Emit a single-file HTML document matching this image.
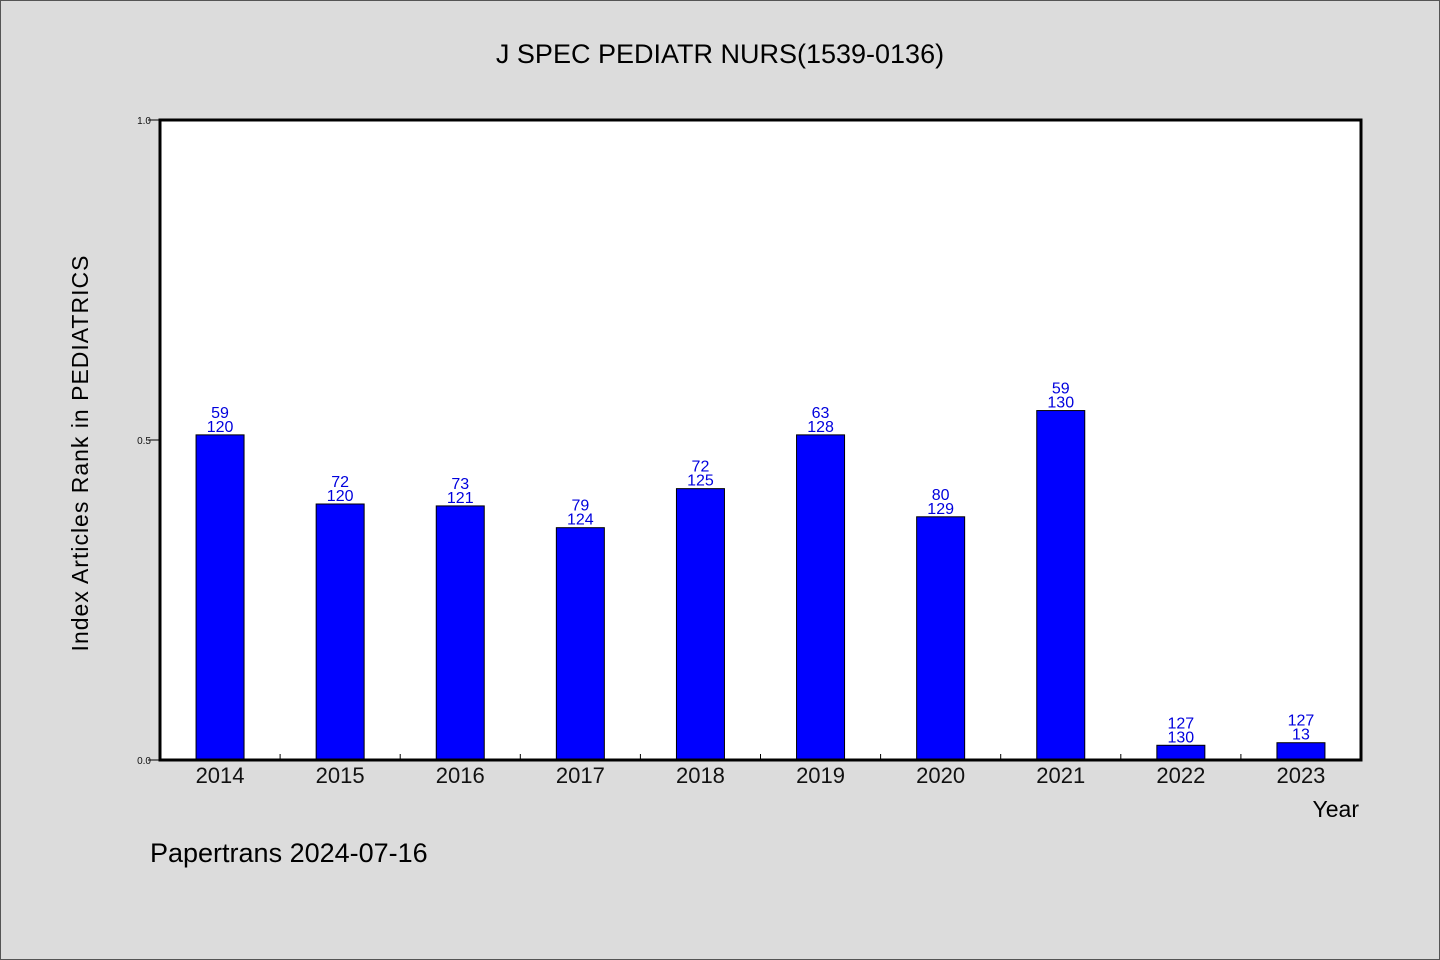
<!DOCTYPE html>
<html><head><meta charset="utf-8"><style>
html,body{margin:0;padding:0;background:#dcdcdc;}
svg{display:block;font-family:"Liberation Sans","WenQuanYi Zen Hei",sans-serif;}
</style></head><body>
<svg id="chart" width="1440" height="960" xmlns="http://www.w3.org/2000/svg">
<rect x="0.5" y="0.5" width="1439" height="959" fill="#dcdcdc" stroke="#555"/>
<text x="720" y="63" font-size="27" text-anchor="middle" fill="#000">J SPEC PEDIATR NURS(1539-0136)</text>
<rect x="160" y="120" width="1201" height="640" fill="#fff"/>
<g id="bars"></g>
<g id="axes"></g>
<rect x="160" y="120" width="1201" height="640" fill="none" stroke="#000" stroke-width="3"/>
<text transform="translate(88,453) rotate(-90)" font-size="23" text-anchor="middle" letter-spacing="1">Index Articles Rank in PEDIATRICS</text>
<text x="1359" y="817" font-size="23" text-anchor="end">Year</text>
<text x="150" y="862" font-size="27">Papertrans 2024-07-16</text>
</svg>
<script>
const categories=["2014","2015","2016","2017","2018","2019","2020","2021","2022","2023"];
const values=[0.508,0.400,0.397,0.363,0.424,0.508,0.380,0.546,0.023,0.027];
const rankLabels=["59","72","73","79","72","63","80","59","127","127"];
const totalLabels=["120","120","121","124","125","128","129","130","130","13"];
const yTicks=[0,0.5,1.0];
const yTickLabels=["0.0","0.5","1.0"];
const NS="http://www.w3.org/2000/svg";
const x0=160,x1=1361,y0=760,y1=120;
const step=(x1-x0)/categories.length;
function xPos(i){return x0+step*(i+0.5);}
function yPos(v){return y0-(y0-y1)*v;}
function mk(tag,attrs,parent){const e=document.createElementNS(NS,tag);for(const k in attrs)e.setAttribute(k,attrs[k]);parent.appendChild(e);return e;}
const bars=document.getElementById('bars'),axes=document.getElementById('axes');
values.forEach((v,i)=>{
  const cx=xPos(i),top=yPos(v);
  const r=mk('rect',{x:cx-24,y:top,width:48,height:y0-top,fill:'#0000ff',stroke:'#000','stroke-width':1},bars);
  
  
  const t1=mk('text',{x:cx,y:top-17,'font-size':16,'text-anchor':'middle',fill:'#0000dd'},bars);
  t1.textContent=rankLabels[i];
  
  
  const t2=mk('text',{x:cx,y:top-3,'font-size':16,'text-anchor':'middle',fill:'#0000dd'},bars);
  t2.textContent=totalLabels[i];
  
  
  const xl=mk('text',{x:cx,y:783,'font-size':22,'text-anchor':'middle',fill:'#111'},axes);
  xl.textContent=categories[i];
  
  
  if(i>0){
    const tk=mk('line',{x1:x0+step*i,x2:x0+step*i,y1:754,y2:760,stroke:'#000','stroke-width':1},axes);
    
    
  }
});
yTicks.forEach((v,i)=>{
  const y=yPos(v);
  const tk=mk('line',{x1:148,x2:160,y1:y,y2:y,stroke:'#000','stroke-width':1},axes);
  
  
  const tl=mk('text',{x:151,y:y+4,'font-size':10,'text-anchor':'end',fill:'#111'},axes);
  tl.textContent=yTickLabels[i];
  
  
});
</script>
</body></html>
